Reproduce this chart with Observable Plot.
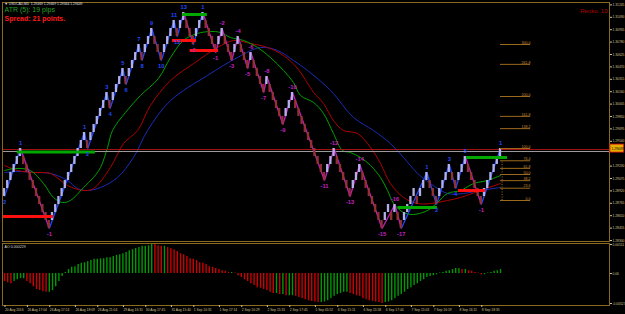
<!DOCTYPE html>
<html><head><meta charset="utf-8">
<script src="https://cdn.jsdelivr.net/npm/d3@7"></script>
<script src="https://cdn.jsdelivr.net/npm/@observablehq/plot@0.6"></script>
<style>
html,body{margin:0;padding:0;background:#000;}
#wrap{position:relative;width:625px;height:314px;background:#000;overflow:hidden;}
#main{position:absolute;left:0;top:0;}
#ind{position:absolute;left:0;top:243px;}
</style></head><body>
<div id="wrap"><div id="main"></div><div id="ind"></div></div>
<script>
// ---------- DATA ----------
const brickSize = 0.0010;
const brickClose = [
1.2895,1.2905,1.2915,1.2925,1.2935,1.2945,
1.2925,1.2915,1.2905,1.2895,1.2885,1.2875,1.2865,1.2855,1.2845,
1.2865,1.2875,1.2885,1.2895,1.2905,1.2915,1.2925,1.2935,1.2945,1.2955,1.2965,
1.2945,
1.2965,1.2975,1.2985,1.2995,1.3005,1.3015,
1.2995,
1.3015,1.3025,1.3035,1.3045,
1.3025,
1.3045,1.3055,1.3065,1.3075,
1.3055,
1.3075,1.3085,1.3095,
1.3075,1.3065,1.3055,
1.3075,1.3085,1.3095,1.3105,
1.3085,
1.3105,1.3115,
1.3095,1.3085,1.3075,
1.3095,1.3105,1.3115,
1.3095,1.3085,1.3075,1.3065,
1.3085,1.3095,
1.3075,1.3065,1.3055,
1.3075,1.3085,
1.3065,1.3055,1.3045,
1.3065,
1.3045,1.3035,1.3025,1.3015,
1.3035,
1.3015,1.3005,1.2995,1.2985,1.2975,
1.2995,1.3005,1.3015,
1.2995,1.2985,1.2975,1.2965,1.2955,1.2945,1.2935,1.2925,1.2915,1.2905,
1.2925,1.2935,1.2945,
1.2925,1.2915,1.2905,1.2895,1.2885,
1.2905,1.2915,1.2925,
1.2905,1.2895,1.2885,1.2875,1.2865,1.2855,1.2845,
1.2865,1.2875,
1.2855,
1.2875,
1.2855,1.2845,
1.2865,1.2875,1.2885,1.2895,
1.2875,
1.2895,1.2905,1.2915,
1.2895,1.2885,1.2875,
1.2895,1.2905,1.2915,1.2925,
1.2905,1.2895,
1.2915,1.2925,1.2935,
1.2915,1.2905,1.2895,1.2885,1.2875,
1.2895,1.2905,1.2915,1.2925,1.2935,1.2945];

const swingIdx = [0,5,14,25,26,32,33,37,38,42,43,46,49,53,54,56,59,62,66,68,71,73,76,77,81,82,87,90,100,103,108,111,118,122,124,132,135,139,141,144,149,155];
const swingPrice = [1.2885,1.2945,1.2845,1.2965,1.2945,1.3015,1.2995,1.3045,1.3025,1.3075,1.3055,1.3095,1.3055,1.3105,1.3085,1.3115,1.3075,1.3115,1.3065,1.3095,1.3055,1.3085,1.3045,1.3065,1.3015,1.3035,1.2975,1.3015,1.2905,1.2945,1.2885,1.2925,1.2845,1.2875,1.2845,1.2915,1.2875,1.2925,1.2895,1.2935,1.2875,1.2945];
const swingLabel = ["2","1","-1","1","2","3","4","5","6","7","8","9","10","11","12","13","-1","1","-1","-2","-3","-4","-5","-6","-7","-8","-9","-10","-11","-12","-13","-14","-15","-16","-17","1","2","3","4","5","-1","1"];

const greenIdx=[0,3.4,8.1,12.2,15.3,18.1,20.6,24.7,27.8,30,32.2,33.75,37.8,42.5,48.1,51.9,55.9,60.3,64.4,67.5,70.6,74.7,79.1,83.1,87.2,90.3,92.5,96.6,99.7,102.8,105.6,108.1,111.25,114.4,117.5,119.7,121.6,124.7,127.8,132.2,135.3,138.4,142.5,146.6,150.9,155];
const greenMA=[1.29175,1.2920,1.29175,1.290125,1.288375,1.28775,1.2880,1.289625,1.290875,1.292125,1.294625,1.29675,1.2990,1.301125,1.30325,1.305875,1.3080,1.308875,1.309125,1.3090,1.308375,1.3080,1.307125,1.305875,1.30425,1.30275,1.301125,1.30025,1.298875,1.296375,1.29425,1.2940,1.293375,1.292375,1.290875,1.28925,1.287625,1.2865,1.28625,1.28675,1.28775,1.288875,1.28925,1.290125,1.2905,1.291125];
const redIdx=[0,4.1,9.1,14.4,19.7,24.7,27.8,33.1,37.2,41.6,45.6,51.9,59.1,66.6,71.6,76.9,82.2,87.2,91.6,96.6,99.7,102.8,105.9,110.3,114.4,117.5,120.6,124.7,129.1,133.1,138.4,142.5,148.75,155];
const redMA=[1.292375,1.29175,1.2915,1.291375,1.289875,1.28925,1.2895,1.292125,1.295125,1.29675,1.299875,1.3030,1.305125,1.307125,1.3080,1.307625,1.307125,1.306125,1.3045,1.3015,1.300125,1.2980,1.29675,1.296375,1.294625,1.292625,1.290125,1.288375,1.287625,1.287625,1.2880,1.288375,1.28925,1.290125];
const blueIdx=[0,4.1,9.1,14.4,19.7,22.8,25.9,30,35.3,40.3,44.7,51.9,63.4,72.8,80,85.3,90.3,94.7,101.9,109.1,115.3,120.6,124.7,129.1,133.1,138.4,143.4,148.75,155];
const blueMA=[1.2915,1.291625,1.2915,1.291375,1.2905,1.2895,1.28925,1.289625,1.290875,1.293375,1.29675,1.3005,1.303625,1.305875,1.307125,1.30675,1.3055,1.30425,1.30175,1.298375,1.29675,1.295125,1.293375,1.291375,1.290125,1.288875,1.288875,1.28925,1.289625];

const srPrice=[1.29405,1.2860,1.31125,1.3080,1.30675,1.287125,1.28925,1.293375];
const srFrom=[4,-0.3,55.6,52.5,58,123,141.9,144.4];
const srTo=[28.4,15.3,63.4,60,66.9,135.3,150.3,157.2];
const srKind=["high","low","high","low","low","high","low","high"];

const askPrice = 1.294375, bidPrice = 1.294125, currentPrice = 1.29449;
const fibLow = 1.2880, fibHigh = 1.2945, fibStartIdx = 155, fibEndIdx = 164.4;
const fibLevels=[0,23.6,38.2,50,61.8,76.4,100,138.2,161.8,200,261.8,300];

const priceTicks=[1.28300,1.28455,1.28610,1.28765,1.28920,1.29075,1.29230,1.29540,1.29695,1.29850,1.30005,1.30160,1.30315,1.30470,1.30625,1.30780,1.30935,1.31090,1.31245];

// AO histogram, in units of 0.0001
const aoValues=[-14,-16,-18,-14,-11,-9,-9,-14,-18,-23,
-28,-30,-32,-33,-33,-30,-23,-14,-5,2,
7,11,12,16,18,19,21,23,25,25,
26,26,28,28,30,32,33,35,37,40,
42,44,46,48,48,49,51.1,51,49,48,
48,46,44,42,39,35,33,30,26,25,
23,19,18,16,12,11,9,7,5,4,
2,2,1,-4,-7,-11,-14,-18,-21,-25,
-26,-28,-30,-33,-35,-35,-37,-37,-39,-39,
-39,-40,-42,-44,-46,-48,-49,-50,-51,-51,
-50,-48,-44,-40,-37,-35,-33,-33,-35,-37,
-39,-40,-44,-46,-48,-49,-50,-51,-52.7,-51,
-50,-48,-44,-40,-37,-33,-28,-25,-21,-18,
-14,-11,-7,-5,-4,-2,1,2,4,5,
7,9,9,7,7,5,4,2,1,-2,
-2,1,2,4,5,7];
const aoTicks=[0.00511,0,-0.00527];
const aoTickText=["0.00511","0.00","-0.00527"];

const timeIdx=[0,7,14,22,29,37,44,52,59,67,74,82,89,97,104,112,119,127,134,142,149];
const timeLabels=["20 Aug 2016","26 Aug 17:04","26 Aug 17:24","26 Aug 18:09","26 Aug 21:04","29 Aug 16:31","30 Aug 17:45","31 Aug 15:40","1 Sep 10:31","1 Sep 17:14","2 Sep 10:29","2 Sep 15:31","2 Sep 17:45","5 Sep 05:52","6 Sep 15:11","6 Sep 15:58","6 Sep 17:44","7 Sep 15:03","7 Sep 16:19","8 Sep 16:11","8 Sep 18:35"];

const headerText = "\u25BC USDCAD,M0  1.29469 1.29469 1.29344 1.29449";
const atrText = "ATR (5): 19 pips";
const spreadText = "Spread: 21 points.";
const renkoText = "Renko: 10";
const aoText = "AO 0.000229";

// ---------- DERIVED ----------
const bricks = brickClose.map((c,i)=>{
  const prev = i ? brickClose[i-1] : c - brickSize;
  const up = c > prev;
  return {i, close:c, open: up ? c - brickSize : c + brickSize, up};
});
const swings = swingIdx.map((i,k)=>({i, p: swingPrice[k], t: swingLabel[k]}));
swings.forEach((s,k)=>{
  const other = k < swings.length-1 ? swings[k+1] : swings[k-1];
  s.high = s.p > other.p;
});
const legs = swings.slice(1).map((s,k)=>({x1: swings[k].i, y1: swings[k].p, x2: s.i, y2: s.p, neg: s.t.startsWith("-")}));
const ma = (idx, vals) => idx.map((i,k)=>({i, p: vals[k]}));
const sr = srPrice.map((p,k)=>({p, a: srFrom[k], b: srTo[k], kind: srKind[k]}));
const fibPrice = r => fibLow + (fibHigh - fibLow) * r / 100;
const ao = aoValues.map((v,i)=>({i, v: v/10000, rising: i===0 ? v>=0 : v >= aoValues[i-1]}));

const xDomain = [-0.3125, 189.0625];
const gold = "#8a6a1e", axisText = "#d2c28e";
const font = "Liberation Sans, Arial, sans-serif";

// ---------- MAIN PANEL ----------
const main = Plot.plot({
  width: 625, height: 243, marginTop: 4, marginBottom: 3, marginLeft: 3, marginRight: 16,
  style: {background: "#000", fontFamily: font},
  x: {domain: xDomain, axis: null},
  y: {domain: [1.2830, 1.3125], axis: null},
  marks: [
    Plot.line(ma(blueIdx, blueMA), {x:"i", y:"p", stroke:"#1a2cb8", strokeWidth:1, curve:"catmull-rom"}),
    Plot.line(ma(redIdx, redMA), {x:"i", y:"p", stroke:"#b00000", strokeWidth:1, curve:"catmull-rom"}),
    Plot.line(ma(greenIdx, greenMA), {x:"i", y:"p", stroke:"#00a000", strokeWidth:1, curve:"catmull-rom"}),
    Plot.ruleY([askPrice], {stroke:"#a01010", strokeWidth:1}),
    Plot.ruleY([bidPrice], {stroke:"#9a9a9a", strokeWidth:1}),
    Plot.link(legs, {x1:"x1", y1:"y1", x2:"x2", y2:"y2", stroke: d=>d.neg ? "#c020c0" : "#2048ff", strokeWidth:1.3}),
    Plot.rect(bricks, {x1: d=>d.i-0.36, x2: d=>d.i+0.36, y1:"open", y2:"close",
      fill: d=>d.up ? "#b8b8f0" : "#983232", fillOpacity: 0.95}),
    Plot.ruleY(sr, {y:"p", x1:"a", x2:"b", stroke: d=>d.kind==="high" ? "#00a800" : "#ff1010", strokeWidth:3}),
    Plot.text(swings.filter(s=>s.high), {x:"i", y:"p", text:"t", dy:-5, fontSize:5.8, fontWeight:"bold",
      fill: d=>d.t.startsWith("-") ? "#c020c0" : "#2048ff"}),
    Plot.text(swings.filter(s=>!s.high), {x:"i", y:"p", text:"t", dy:5.5, fontSize:5.8, fontWeight:"bold",
      fill: d=>d.t.startsWith("-") ? "#c020c0" : "#2048ff"}),
    Plot.ruleY(fibLevels, {y: fibPrice, x1: fibStartIdx, x2: fibEndIdx, stroke:"#9c6a1c", strokeWidth:1}),
    Plot.text(fibLevels, {y: fibPrice, x: fibEndIdx, text: r=>r.toFixed(1), textAnchor:"end", dy:-2, fontSize:3.6, fill:"#c08a38"}),
    Plot.ruleX([fibStartIdx + 0.5], {y1: fibPrice(0), y2: fibPrice(76.4), stroke:"#9c6a1c", strokeDasharray:"1,1.5"}),
    Plot.frame({stroke: gold, insetTop: -2, insetLeft: -1, insetBottom: -1}),
    Plot.axisY(priceTicks, {anchor:"right", tickSize:2, tickPadding:1, fontSize:3.3, color: axisText,
      tickFormat: d=>d.toFixed(5), label:null}),
    Plot.rect([currentPrice], {x1: xDomain[1]+0.3, x2: xDomain[1]+4.6, y1: d=>d-0.0005, y2: d=>d+0.0005,
      fill:"#e6b000", stroke:"#e01010", strokeWidth:0.8}),
    Plot.text([currentPrice], {x: xDomain[1]+0.6, y: d=>d, text: d=>d.toFixed(5), textAnchor:"start", fontSize:3.3, fill:"#000"}),
    Plot.text([headerText], {frameAnchor:"top-left", text:d=>d, lineAnchor:"top", dx:1, dy:-1.5, fontSize:3.4, fill:"#e0e0e0"}),
    Plot.text([atrText], {frameAnchor:"top-left", text:d=>d, lineAnchor:"top", dx:1, dy:2.5, fontSize:7, fill:"#20a020"}),
    Plot.text([spreadText], {frameAnchor:"top-left", text:d=>d, lineAnchor:"top", dx:1, dy:12, fontSize:7, fontWeight:"bold", fill:"#ff1a1a"}),
    Plot.text([renkoText], {frameAnchor:"top-right", text:d=>d, lineAnchor:"top", textAnchor:"end", dx:-2, dy:4.5, fontSize:6, fill:"#b40000"})
  ]
});
document.getElementById("main").appendChild(main);

// ---------- AO PANEL ----------
const timeMap = new Map(timeIdx.map((t,k)=>[t, timeLabels[k]]));
const aoMap = new Map(aoTicks.map((t,k)=>[t, aoTickText[k]]));
const ind = Plot.plot({
  width: 625, height: 71, marginTop: 0, marginBottom: 9, marginLeft: 3, marginRight: 16,
  style: {background: "#000", fontFamily: font},
  x: {domain: xDomain, axis: null},
  y: {domain: [-0.00562, 0.00529], axis: null},
  marks: [
    Plot.ruleX(ao, {x:"i", y1:0, y2:"v", stroke: d=>d.rising ? "#009a00" : "#cc0000", strokeWidth:1.4}),
    Plot.frame({stroke: gold, insetLeft: -1}),
    Plot.axisY(aoTicks, {anchor:"right", tickSize:2, tickPadding:1, fontSize:3.3, color: axisText,
      tickFormat: d=>aoMap.get(d), label:null}),
    Plot.axisX(timeIdx, {anchor:"bottom", tickSize:2, tickPadding:1, fontSize:3.3, color: axisText,
      textAnchor:"start", dx:0.5, tickFormat: d=>timeMap.get(d), label:null}),
    Plot.text([aoText], {frameAnchor:"top-left", text:d=>d, lineAnchor:"top", dx:1, dy:1.5, fontSize:3.6, fill:"#d8d8d8"})
  ]
});
document.getElementById("ind").appendChild(ind);
</script>
</body></html>
